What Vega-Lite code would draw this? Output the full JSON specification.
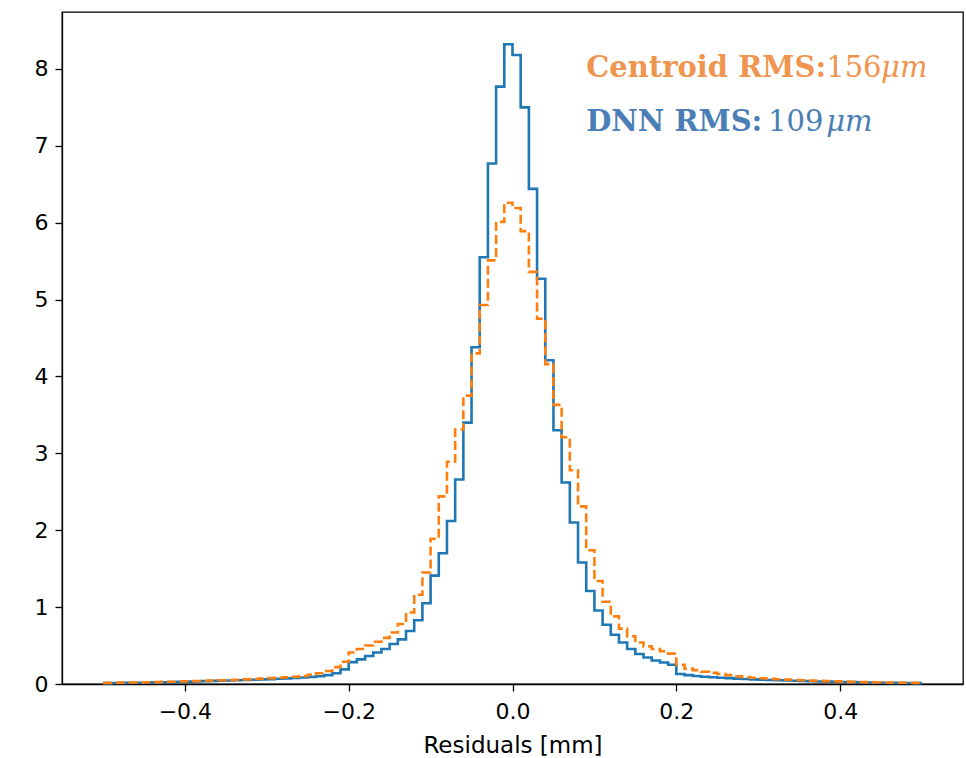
{
  "$schema": "https://vega.github.io/schema/vega-lite/v6.json",
  "width": 901,
  "height": 672,
  "autosize": "none",
  "padding": {"left": 62, "top": 12, "right": 3, "bottom": 74},
  "background": "white",
  "config": {
    "view": {"stroke": "black", "strokeWidth": 1.3},
    "axis": {
      "domainColor": "black",
      "domainWidth": 1.3,
      "tickColor": "black",
      "tickWidth": 1.3,
      "tickSize": 7,
      "grid": false,
      "labelFont": "DejaVu Sans",
      "labelFontSize": 22,
      "labelColor": "black",
      "titleFont": "DejaVu Sans",
      "titleFontSize": 23,
      "titleFontWeight": "normal",
      "titleColor": "black"
    }
  },
  "datasets": {
    "dnn": [
      {"x": -0.50, "v": 0.012}, {"x": -0.49, "v": 0.013}, {"x": -0.48, "v": 0.014}, {"x": -0.47, "v": 0.016}, {"x": -0.46, "v": 0.017},
      {"x": -0.45, "v": 0.019}, {"x": -0.44, "v": 0.021}, {"x": -0.43, "v": 0.023}, {"x": -0.42, "v": 0.025}, {"x": -0.41, "v": 0.028},
      {"x": -0.40, "v": 0.031}, {"x": -0.39, "v": 0.034}, {"x": -0.38, "v": 0.037}, {"x": -0.37, "v": 0.040}, {"x": -0.36, "v": 0.043},
      {"x": -0.35, "v": 0.046}, {"x": -0.34, "v": 0.049}, {"x": -0.33, "v": 0.052}, {"x": -0.32, "v": 0.056}, {"x": -0.31, "v": 0.060},
      {"x": -0.30, "v": 0.064}, {"x": -0.29, "v": 0.068}, {"x": -0.28, "v": 0.073}, {"x": -0.27, "v": 0.078}, {"x": -0.26, "v": 0.084},
      {"x": -0.25, "v": 0.092}, {"x": -0.24, "v": 0.100}, {"x": -0.23, "v": 0.115}, {"x": -0.22, "v": 0.140}, {"x": -0.21, "v": 0.190},
      {"x": -0.20, "v": 0.285}, {"x": -0.19, "v": 0.320}, {"x": -0.18, "v": 0.365}, {"x": -0.17, "v": 0.410}, {"x": -0.16, "v": 0.455},
      {"x": -0.15, "v": 0.520}, {"x": -0.14, "v": 0.580}, {"x": -0.13, "v": 0.690}, {"x": -0.12, "v": 0.830}, {"x": -0.11, "v": 1.050},
      {"x": -0.10, "v": 1.410}, {"x": -0.09, "v": 1.700}, {"x": -0.08, "v": 2.120}, {"x": -0.07, "v": 2.660}, {"x": -0.06, "v": 3.400},
      {"x": -0.05, "v": 4.380}, {"x": -0.04, "v": 5.550}, {"x": -0.03, "v": 6.770}, {"x": -0.02, "v": 7.770}, {"x": -0.01, "v": 8.320},
      {"x": 0.00, "v": 8.180}, {"x": 0.01, "v": 7.500}, {"x": 0.02, "v": 6.440}, {"x": 0.03, "v": 5.270}, {"x": 0.04, "v": 4.210},
      {"x": 0.05, "v": 3.300}, {"x": 0.06, "v": 2.620}, {"x": 0.07, "v": 2.100}, {"x": 0.08, "v": 1.580}, {"x": 0.09, "v": 1.210},
      {"x": 0.10, "v": 0.955}, {"x": 0.11, "v": 0.770}, {"x": 0.12, "v": 0.640}, {"x": 0.13, "v": 0.540}, {"x": 0.14, "v": 0.455},
      {"x": 0.15, "v": 0.390}, {"x": 0.16, "v": 0.345}, {"x": 0.17, "v": 0.305}, {"x": 0.18, "v": 0.280}, {"x": 0.19, "v": 0.250},
      {"x": 0.20, "v": 0.130}, {"x": 0.21, "v": 0.115}, {"x": 0.22, "v": 0.105}, {"x": 0.23, "v": 0.095}, {"x": 0.24, "v": 0.088},
      {"x": 0.25, "v": 0.082}, {"x": 0.26, "v": 0.076}, {"x": 0.27, "v": 0.070}, {"x": 0.28, "v": 0.065}, {"x": 0.29, "v": 0.060},
      {"x": 0.30, "v": 0.056}, {"x": 0.31, "v": 0.052}, {"x": 0.32, "v": 0.048}, {"x": 0.33, "v": 0.045}, {"x": 0.34, "v": 0.042},
      {"x": 0.35, "v": 0.039}, {"x": 0.36, "v": 0.036}, {"x": 0.37, "v": 0.033}, {"x": 0.38, "v": 0.031}, {"x": 0.39, "v": 0.029},
      {"x": 0.40, "v": 0.026}, {"x": 0.41, "v": 0.024}, {"x": 0.42, "v": 0.022}, {"x": 0.43, "v": 0.020}, {"x": 0.44, "v": 0.018},
      {"x": 0.45, "v": 0.017}, {"x": 0.46, "v": 0.015}, {"x": 0.47, "v": 0.014}, {"x": 0.48, "v": 0.013}, {"x": 0.49, "v": 0.012},
      {"x": 0.50, "v": 0.012}
    ],
    "centroid": [
      {"x": -0.50, "v": 0.015}, {"x": -0.49, "v": 0.016}, {"x": -0.48, "v": 0.018}, {"x": -0.47, "v": 0.019}, {"x": -0.46, "v": 0.021},
      {"x": -0.45, "v": 0.023}, {"x": -0.44, "v": 0.025}, {"x": -0.43, "v": 0.027}, {"x": -0.42, "v": 0.030}, {"x": -0.41, "v": 0.033},
      {"x": -0.40, "v": 0.036}, {"x": -0.39, "v": 0.039}, {"x": -0.38, "v": 0.042}, {"x": -0.37, "v": 0.045}, {"x": -0.36, "v": 0.048},
      {"x": -0.35, "v": 0.052}, {"x": -0.34, "v": 0.056}, {"x": -0.33, "v": 0.060}, {"x": -0.32, "v": 0.065}, {"x": -0.31, "v": 0.070},
      {"x": -0.30, "v": 0.076}, {"x": -0.29, "v": 0.082}, {"x": -0.28, "v": 0.088}, {"x": -0.27, "v": 0.095}, {"x": -0.26, "v": 0.105},
      {"x": -0.25, "v": 0.120}, {"x": -0.24, "v": 0.140}, {"x": -0.23, "v": 0.170}, {"x": -0.22, "v": 0.220}, {"x": -0.21, "v": 0.290},
      {"x": -0.20, "v": 0.410}, {"x": -0.19, "v": 0.455}, {"x": -0.18, "v": 0.500}, {"x": -0.17, "v": 0.550}, {"x": -0.16, "v": 0.600},
      {"x": -0.15, "v": 0.670}, {"x": -0.14, "v": 0.780}, {"x": -0.13, "v": 0.930}, {"x": -0.12, "v": 1.160}, {"x": -0.11, "v": 1.450},
      {"x": -0.10, "v": 1.890}, {"x": -0.09, "v": 2.440}, {"x": -0.08, "v": 2.890}, {"x": -0.07, "v": 3.310}, {"x": -0.06, "v": 3.750},
      {"x": -0.05, "v": 4.300}, {"x": -0.04, "v": 4.930}, {"x": -0.03, "v": 5.510}, {"x": -0.02, "v": 6.010}, {"x": -0.01, "v": 6.260},
      {"x": 0.00, "v": 6.190}, {"x": 0.01, "v": 5.890}, {"x": 0.02, "v": 5.360}, {"x": 0.03, "v": 4.750}, {"x": 0.04, "v": 4.160},
      {"x": 0.05, "v": 3.630}, {"x": 0.06, "v": 3.210}, {"x": 0.07, "v": 2.780}, {"x": 0.08, "v": 2.310}, {"x": 0.09, "v": 1.740},
      {"x": 0.10, "v": 1.340}, {"x": 0.11, "v": 1.070}, {"x": 0.12, "v": 0.880}, {"x": 0.13, "v": 0.720}, {"x": 0.14, "v": 0.620},
      {"x": 0.15, "v": 0.540}, {"x": 0.16, "v": 0.490}, {"x": 0.17, "v": 0.455}, {"x": 0.18, "v": 0.425}, {"x": 0.19, "v": 0.395},
      {"x": 0.20, "v": 0.250}, {"x": 0.21, "v": 0.200}, {"x": 0.22, "v": 0.180}, {"x": 0.23, "v": 0.160}, {"x": 0.24, "v": 0.145},
      {"x": 0.25, "v": 0.130}, {"x": 0.26, "v": 0.115}, {"x": 0.27, "v": 0.100}, {"x": 0.28, "v": 0.090}, {"x": 0.29, "v": 0.082},
      {"x": 0.30, "v": 0.075}, {"x": 0.31, "v": 0.068}, {"x": 0.32, "v": 0.062}, {"x": 0.33, "v": 0.057}, {"x": 0.34, "v": 0.052},
      {"x": 0.35, "v": 0.048}, {"x": 0.36, "v": 0.044}, {"x": 0.37, "v": 0.040}, {"x": 0.38, "v": 0.037}, {"x": 0.39, "v": 0.034},
      {"x": 0.40, "v": 0.031}, {"x": 0.41, "v": 0.028}, {"x": 0.42, "v": 0.026}, {"x": 0.43, "v": 0.024}, {"x": 0.44, "v": 0.022},
      {"x": 0.45, "v": 0.020}, {"x": 0.46, "v": 0.018}, {"x": 0.47, "v": 0.017}, {"x": 0.48, "v": 0.016}, {"x": 0.49, "v": 0.015},
      {"x": 0.50, "v": 0.015}
    ],
    "labels": [
      {"x": 0.09, "v": 7.90, "text": "Centroid RMS:", "part": "label", "series": "Centroid"},
      {"x": 0.383, "v": 7.90, "text": "156", "part": "number", "series": "Centroid"},
      {"x": 0.450, "v": 7.90, "text": "μm", "part": "unit", "series": "Centroid"},
      {"x": 0.09, "v": 7.195, "text": "DNN RMS:", "part": "label", "series": "DNN"},
      {"x": 0.312, "v": 7.195, "text": "109", "part": "number", "series": "DNN"},
      {"x": 0.383, "v": 7.195, "text": "μm", "part": "unit", "series": "DNN"}
    ]
  },
  "encoding": {
    "x": {
      "field": "x",
      "type": "quantitative",
      "scale": {"domain": [-0.55, 0.55], "nice": false, "zero": false},
      "axis": {"values": [-0.4, -0.2, 0, 0.2, 0.4], "format": ".1f", "title": "Residuals [mm]", "labelPadding": 10, "titlePadding": 12}
    },
    "y": {
      "field": "v",
      "type": "quantitative",
      "scale": {"domain": [0, 8.74], "nice": false, "zero": true},
      "axis": {"values": [0, 1, 2, 3, 4, 5, 6, 7, 8], "format": "d", "title": null, "labelPadding": 7}
    }
  },
  "layer": [
    {
      "data": {"name": "dnn"},
      "mark": {"type": "line", "interpolate": "step-after", "color": "#1f77b4", "strokeWidth": 2.6}
    },
    {
      "data": {"name": "centroid"},
      "mark": {"type": "line", "interpolate": "step-after", "color": "#ff7f0e", "strokeWidth": 2.6, "strokeDash": [9, 4]}
    },
    {
      "data": {"name": "labels"},
      "transform": [{"filter": "datum.part === 'label'"}],
      "mark": {"type": "text", "align": "left", "baseline": "alphabetic", "font": "DejaVu Serif", "fontWeight": "bold", "fontSize": 29},
      "encoding": {
        "text": {"field": "text"},
        "color": {"field": "series", "type": "nominal", "scale": {"domain": ["Centroid", "DNN"], "range": ["#ef9550", "#4a7eb6"]}, "legend": null}
      }
    },
    {
      "data": {"name": "labels"},
      "transform": [{"filter": "datum.part === 'number'"}],
      "mark": {"type": "text", "align": "left", "baseline": "alphabetic", "font": "DejaVu Serif", "fontWeight": "normal", "fontSize": 29},
      "encoding": {
        "text": {"field": "text"},
        "color": {"field": "series", "type": "nominal", "scale": {"domain": ["Centroid", "DNN"], "range": ["#ef9550", "#4a7eb6"]}, "legend": null}
      }
    },
    {
      "data": {"name": "labels"},
      "transform": [{"filter": "datum.part === 'unit'"}],
      "mark": {"type": "text", "align": "left", "baseline": "alphabetic", "font": "DejaVu Serif", "fontStyle": "italic", "fontSize": 29},
      "encoding": {
        "text": {"field": "text"},
        "color": {"field": "series", "type": "nominal", "scale": {"domain": ["Centroid", "DNN"], "range": ["#ef9550", "#4a7eb6"]}, "legend": null}
      }
    }
  ]
}
